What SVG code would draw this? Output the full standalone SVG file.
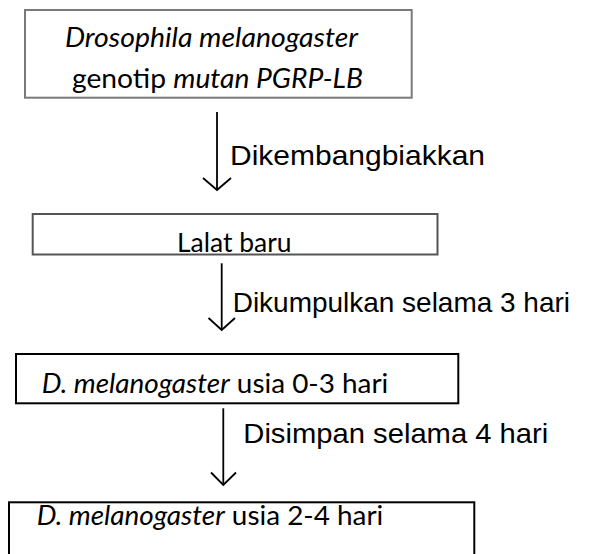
<svg xmlns="http://www.w3.org/2000/svg" width="594" height="554" viewBox="0 0 594 554">
<defs>
<style>
.box{fill:#fff;stroke-width:2}
.cal{font-family:Lato,"Open Sans","Noto Sans",sans-serif;font-size:26.5px;fill:#000}
.ari{font-family:"Liberation Sans",Arial,sans-serif;font-size:28.5px;fill:#000}
.i{font-style:italic}
.conn line,.conn polyline{stroke:#000;stroke-width:1.8;fill:none}
</style>
</defs>
<rect width="594" height="554" fill="#fff"/>
<g id="node1">
<rect class="box" x="25" y="10" width="386.7" height="87.7" stroke="#7a7a7a" stroke-width="2.4"/>
<text class="cal i" x="65" y="46.5" textLength="293" lengthAdjust="spacingAndGlyphs">Drosophila melanogaster</text>
<text class="cal" x="72" y="87.5" textLength="291" lengthAdjust="spacingAndGlyphs">genotip <tspan class="i">mutan PGRP-LB</tspan></text>
</g>
<g id="node2">
<rect class="box" x="32.7" y="214" width="404.8" height="40.5" stroke="#555" stroke-width="1.6"/>
<text class="cal" x="177" y="251.7" textLength="114.5" lengthAdjust="spacingAndGlyphs">Lalat baru</text>
</g>
<g id="node3">
<rect class="box" x="16" y="354" width="442.3" height="49.3" stroke="#000"/>
<text class="cal" x="41.7" y="392.7" textLength="346.6" lengthAdjust="spacingAndGlyphs"><tspan class="i">D. melanogaster</tspan> usia 0-3 hari</text>
</g>
<g id="node4">
<rect class="box" x="9" y="502.3" width="465.3" height="60" stroke="#000"/>
<text class="cal" x="36.7" y="525" textLength="346.6" lengthAdjust="spacingAndGlyphs"><tspan class="i">D. melanogaster</tspan> usia 2-4 hari</text>
</g>
<g id="connectors" class="conn">
<line x1="217" y1="112" x2="217" y2="190"/>
<polyline points="203,178 217,190 231,178"/>
<line x1="221.7" y1="263.3" x2="221.7" y2="330"/>
<polyline points="208.5,318 221.7,330 235,318"/>
<line x1="223.3" y1="408.3" x2="223.3" y2="485"/>
<polyline points="211,472.5 223.3,485 236,472.5"/>
<text class="ari" x="230" y="165" textLength="255" lengthAdjust="spacingAndGlyphs">Dikembangbiakkan</text>
<text class="ari" x="232.7" y="311.7" textLength="337.3" lengthAdjust="spacingAndGlyphs">Dikumpulkan selama 3 hari</text>
<text class="ari" x="243.3" y="443.3" textLength="305" lengthAdjust="spacingAndGlyphs">Disimpan selama 4 hari</text>
</g>
</svg>
